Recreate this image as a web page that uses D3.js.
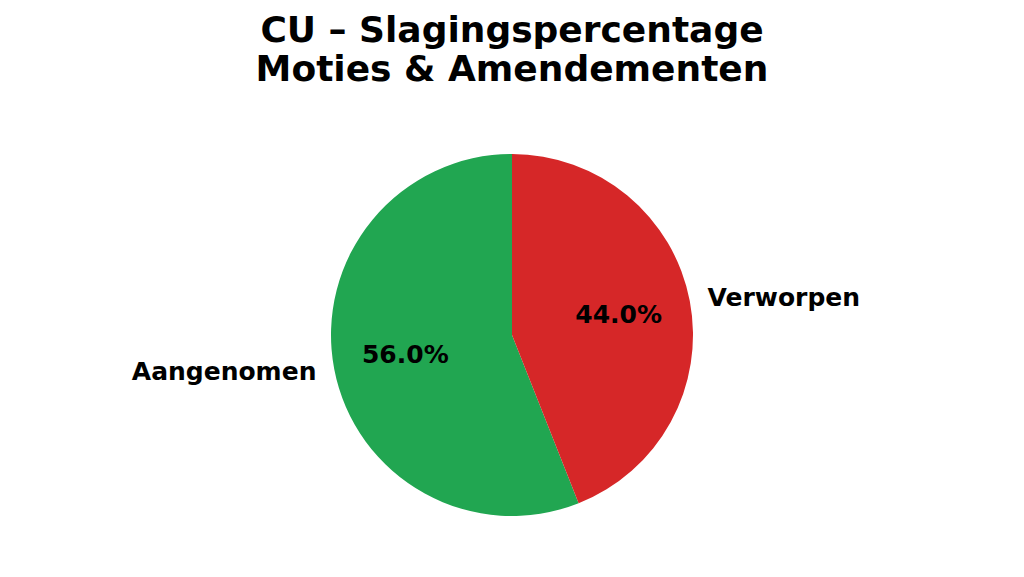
<!DOCTYPE html>
<html>
<head>
<meta charset="utf-8">
<script src="https://cdn.jsdelivr.net/npm/d3@7"></script>
<style>
  body { margin: 0; background: #fff; }
  svg text { font-family: "DejaVu Sans", sans-serif; font-weight: bold; fill: #000; }
</style>
</head>
<body>
<div id="chart"></div>
<script>
// Data
const labels = ['Aangenomen', 'Verworpen'];
const values = [56.0, 44.0];
const colors = ['#21a651', '#d62728'];
const titleLines = ['CU \u2013 Slagingspercentage', 'Moties & Amendementen'];

const width = 1024, height = 577;
const cx = 512, cy = 335, radius = 181;

const svg = d3.select('#chart')
    .append('svg')
    .attr('width', width)
    .attr('height', height);

// Title
svg.append('text')
    .attr('x', width / 2)
    .attr('text-anchor', 'middle')
    .style('font-size', '36px')
    .selectAll('tspan')
    .data(titleLines)
    .enter()
    .append('tspan')
    .attr('x', width / 2)
    .attr('y', (d, i) => 42 + i * 39)
    .text(d => d);

// Pie: start at top, counterclockwise like matplotlib startangle=90
const pie = d3.pie()
    .value(d => d)
    .sort(null)
    .startAngle(0)
    .endAngle(-2 * Math.PI);

const arc = d3.arc()
    .innerRadius(0)
    .outerRadius(radius);

const g = svg.append('g')
    .attr('transform', `translate(${cx},${cy})`);

const slices = pie(values);

g.selectAll('path')
    .data(slices)
    .enter()
    .append('path')
    .attr('d', arc)
    .attr('fill', (d, i) => colors[i]);

const mid = d => (d.startAngle + d.endAngle) / 2;

// Category labels outside (1.1 r)
g.selectAll('.cat')
    .data(slices)
    .enter()
    .append('text')
    .attr('class', 'cat')
    .attr('x', d => Math.sin(mid(d)) * radius * 1.1)
    .attr('y', d => -Math.cos(mid(d)) * radius * 1.1)
    .attr('dy', '0.32em')
    .attr('text-anchor', d => Math.sin(mid(d)) < 0 ? 'end' : 'start')
    .style('font-size', '25px')
    .text((d, i) => labels[i]);

// Percentage labels inside (0.6 r)
g.selectAll('.pct')
    .data(slices)
    .enter()
    .append('text')
    .attr('class', 'pct')
    .attr('x', d => Math.sin(mid(d)) * radius * 0.6)
    .attr('y', d => -Math.cos(mid(d)) * radius * 0.6)
    .attr('dy', '0.32em')
    .attr('text-anchor', 'middle')
    .style('font-size', '25px')
    .text(d => d.value.toFixed(1) + '%');
</script>
</body>
</html>
